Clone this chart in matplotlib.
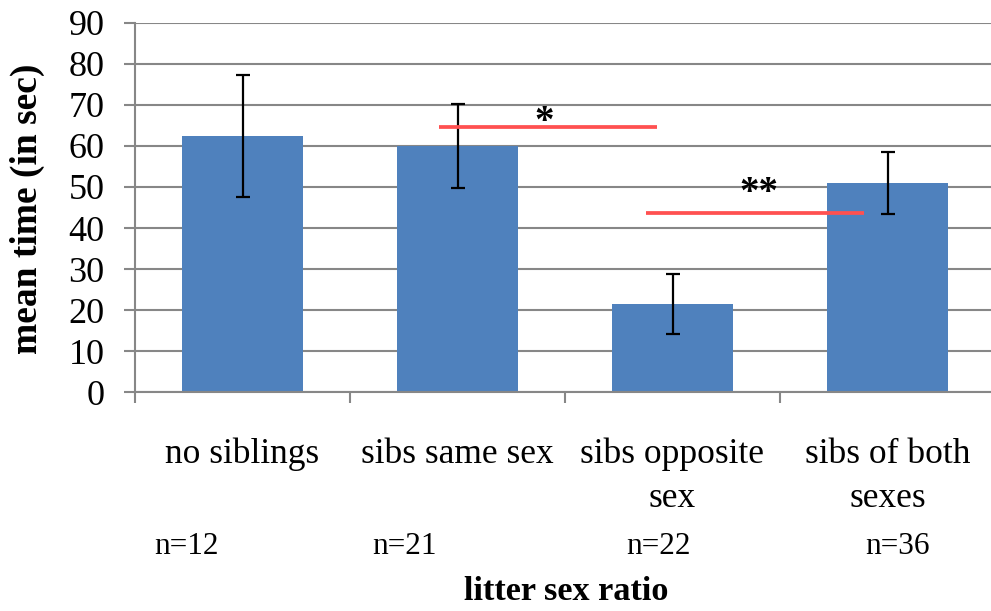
import matplotlib
matplotlib.use("Agg")
import matplotlib.pyplot as plt
from matplotlib.transforms import blended_transform_factory

# ---- data ----
categories = ["no siblings", "sibs same sex", "sibs opposite\nsex", "sibs of both\nsexes"]
mean_time = [62.4, 60.0, 21.4, 51.0]
err = [14.9, 10.3, 7.3, 7.6]
n_labels = ["n=12", "n=21", "n=22", "n=36"]
y_ticks = [0, 10, 20, 30, 40, 50, 60, 70, 80, 90]
# significance bars: (x_start, x_end, y)
sig_lines = [(0.916, 1.93, 64.7), (1.879, 2.893, 43.7)]
sig_labels = ["*", "**"]

# ---- layout (annotation positions) ----
n_label_x = [-0.26, 0.753, 1.935, 3.047]
sig_text_pos = [(1.405, 63.4), (2.40, 46.1)]

W, H = 991, 611
plt.rcParams['font.family'] = ['Liberation Serif', 'DejaVu Serif']
fig = plt.figure(figsize=(W / 100, H / 100), dpi=100)
ax = fig.add_axes([135 / W, (H - 392.3) / H, 860 / W, 369.6 / H])

grey = '#878787'
x = list(range(len(categories)))
ax.bar(x, mean_time, width=0.56, color='#4F81BD', zorder=2)
ax.errorbar(x, mean_time, yerr=err, fmt='none', ecolor='black',
            elinewidth=1.6, capsize=5.2, capthick=1.6, zorder=3)

for (x0, x1, yv), lab, (tx, ty) in zip(sig_lines, sig_labels, sig_text_pos):
    ax.plot([x0, x1], [yv, yv], color='#FF5050', lw=2.7, zorder=4,
            solid_capstyle='butt')
    ax.text(tx, ty, lab, ha='center', va='baseline', fontsize=28,
            fontweight='bold', zorder=5)

ax.set_xlim(-0.5, 3.5)
ax.set_ylim(0, 90)
ax.set_yticks(y_ticks)
ax.set_yticklabels([str(v) for v in y_ticks], fontsize=26)
ax.yaxis.grid(True, color=grey, lw=1.5, zorder=0)
ax.set_axisbelow(True)
ax.tick_params(axis='y', length=8, width=1.5, color=grey, pad=14)
ax.set_xticks([-0.5, 0.5, 1.5, 2.5])
ax.set_xticklabels([])
ax.tick_params(axis='x', length=8, width=1.5, color=grey)
for s in ['top', 'right']:
    ax.spines[s].set_visible(False)
for s in ['left', 'bottom']:
    ax.spines[s].set_color(grey)
    ax.spines[s].set_linewidth(1.5)

tr = blended_transform_factory(ax.transData, fig.transFigure)
for i, cat in enumerate(categories):
    for k, line in enumerate(cat.split('\n')):
        ax.text(i, 1 - (463 + 44 * k) / H, line, transform=tr, ha='center',
                va='baseline', fontsize=25.5, clip_on=False)
for xi, lab in zip(n_label_x, n_labels):
    ax.text(xi, 1 - 554 / H, lab, transform=tr, ha='center', va='baseline',
            fontsize=22.5, clip_on=False)

fig.text(566 / W, 1 - 600 / H, "litter sex ratio", ha='center', va='baseline',
         fontsize=24.7, fontweight='bold')
fig.text(27 / W, 1 - 209 / H, "mean time (in sec)", ha='center', va='center',
         rotation=90, fontsize=27, fontweight='bold')

fig.savefig('out.png', dpi=100)
